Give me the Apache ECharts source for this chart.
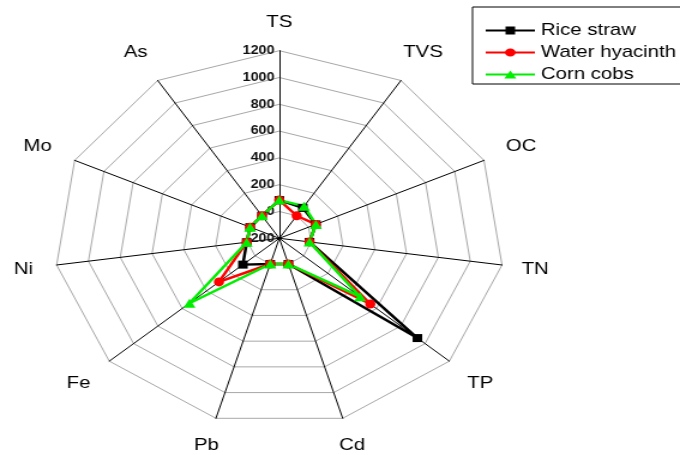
<!DOCTYPE html>
<html>
<head>
<meta charset="utf-8">
<script src="https://cdn.jsdelivr.net/npm/echarts@6/dist/echarts.min.js"></script>
<style>
  html, body { margin: 0; padding: 0; background: #fff; overflow: hidden; }
  /* the source figure is stretched sideways, so draw narrow and widen */
  #main { width: 567px; height: 455px; transform: scaleX(1.1993); transform-origin: 0 0; }
</style>
</head>
<body>
<div id="main"></div>
<script>
var indicatorNames = ['TS', 'TVS', 'OC', 'TN', 'TP', 'Cd', 'Pb', 'Fe', 'Ni', 'Mo', 'As'];
var seriesNames = ['Rice straw', 'Water hyacinth', 'Corn cobs'];
var riceStraw     = [85, 70, 50, -10, 937, 0, 0, 100, 5, 0, 0];
var waterHyacinth = [85, 0, 50, -10, 549, 0, 0, 297, 5, 0, 0];
var cornCobs      = [85, 85, 50, -10, 465, 0, 0, 540, 5, 0, 0];
var axisMin = -200, axisMax = 1200, axisSplits = 7;

// distance of each axis name from the outer ring (diagonal names sit further out)
var nameGaps = [28, 34, 34, 28, 34, 28, 28, 34, 28, 34, 34];

var font = 'Arial, "Liberation Sans", sans-serif';

// echarts lays radar axes out anticlockwise, the figure goes clockwise
function clockwise(arr) {
    return [arr[0]].concat(arr.slice(1).reverse());
}

var gapsCw = clockwise(nameGaps);
var indicators = clockwise(indicatorNames).map(function (n, i) {
    var ind = { name: n, min: axisMin, max: axisMax, nameGap: gapsCw[i] };
    if (i === 0) ind.axisLabel = { show: true };
    return ind;
});

var lineBar = 'M0,3 L41,3 L41,5 L0,5 Z ';
var icons = [
    'path://' + lineBar + 'M16.5,0 L24.5,0 L24.5,8 L16.5,8 Z',
    'path://' + lineBar + 'M25,4 A4.5,4 0 1 1 16,4 A4.5,4 0 1 1 25,4 Z',
    'path://' + lineBar + 'M20.5,0 L25.5,8 L15.5,8 Z'
];
var colors = ['#000000', '#ff0000', '#00ee00'];
var symbols = ['rect', 'circle', 'triangle'];
var symbolSizes = [[8, 8], [8.5, 9], [10, 9]];
var values = [riceStraw, waterHyacinth, cornCobs];

var myChart = echarts.init(document.getElementById('main'));
myChart.setOption({
    backgroundColor: '#fff',
    animation: false,
    legend: {
        orient: 'vertical',
        left: 394,
        top: 7,
        padding: [15, 40, 1, 11],
        itemGap: 5,
        itemWidth: 41,
        itemHeight: 8,
        borderColor: '#000',
        borderWidth: 1,
        borderRadius: 0,
        textStyle: { fontSize: 17, color: '#000', fontFamily: font },
        data: seriesNames.map(function (n, i) {
            return { name: n, icon: icons[i], itemStyle: { color: colors[i] } };
        })
    },
    radar: {
        center: [232.9, 238.3],
        radius: 187.6,
        startAngle: 90,
        shape: 'polygon',
        splitNumber: axisSplits,
        indicator: indicators,
        axisName: {
            color: '#000', fontSize: 17, fontFamily: font,
            align: 'center', verticalAlign: 'middle'
        },
        nameGap: 28,
        axisLine: { lineStyle: { color: '#000', width: 1 } },
        splitLine: { lineStyle: { color: '#a8a8a8', width: 1 } },
        splitArea: { show: false },
        axisTick: { show: false },
        axisLabel: {
            show: false,
            color: '#111',
            fontSize: 12,
            fontWeight: 'bold',
            fontFamily: font,
            margin: 4,
            formatter: function (v) { return String(v); }
        }
    },
    series: [{
        type: 'radar',
        data: values.map(function (v, i) {
            return {
                name: seriesNames[i],
                value: clockwise(v),
                symbol: symbols[i],
                symbolSize: symbolSizes[i],
                lineStyle: { color: colors[i], width: 2.5 },
                itemStyle: { color: colors[i] }
            };
        })
    }]
});
</script>
</body>
</html>
